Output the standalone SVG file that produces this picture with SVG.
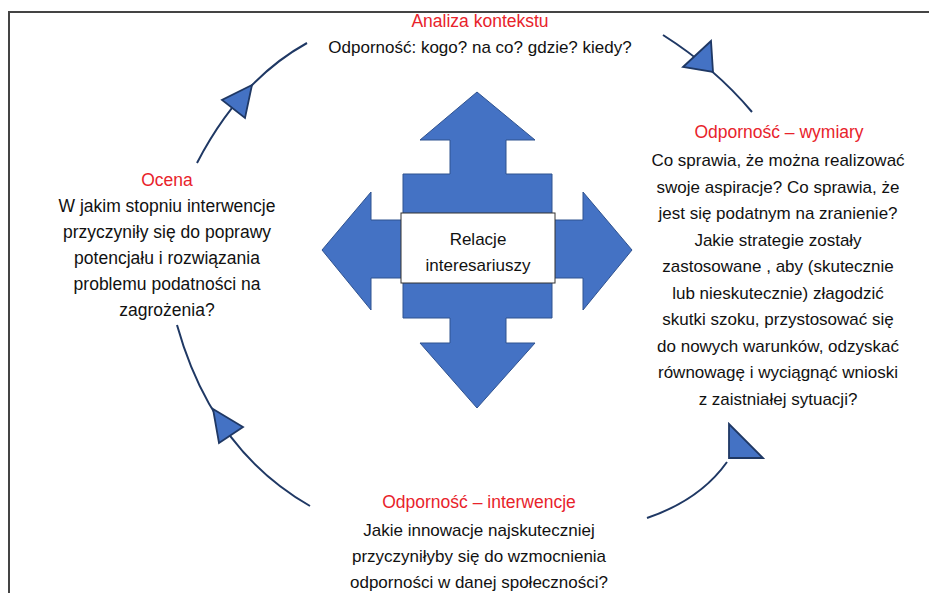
<svg xmlns="http://www.w3.org/2000/svg" width="929" height="593" viewBox="0 0 929 593">
<style>
  .t { font-family: "Liberation Sans", Arial, sans-serif; font-size: 17px; fill: #111; text-anchor: middle; }
  .r { fill: #E8232B; }
  .arc { fill: none; stroke: #1F3864; stroke-width: 2; }
  .head { fill: #4472C4; stroke: #1F3864; stroke-width: 1.8; stroke-linejoin: miter; }
  .cross { fill: #4472C4; stroke: #2F528F; stroke-width: 1; }
</style>
<rect x="0" y="0" width="929" height="593" fill="#fff"/>
<rect x="9" y="12" width="940" height="600" fill="none" stroke="#444" stroke-width="2"/>

<g id="connectors">
  <path class="arc" d="M197,163 Q240,80 307,43"/>
  <polygon class="head" points="252,85 222,100 245,118"/>
  <path class="arc" d="M663,35 Q715,68 752,112"/>
  <polygon class="head" points="711,41 683,67 713,72"/>
  <path class="arc" d="M647,518 Q700,500 727,462"/>
  <polygon class="head" points="729,424 729,458 763,458"/>
  <path class="arc" d="M177,325 Q212,450 310,506"/>
  <polygon class="head" points="213,409 243,427 219,443"/>
</g>

<g id="node-center">
  <polygon class="cross" points="477,92 535,140 506,140 506,174 552,174 552,220 583,220 583,192 632,250 583,310 583,278 552,278 552,318 506,318 506,343 535,343 477,408 420,343 450,343 450,318 403,318 403,278 371,278 371,310 322,250 371,192 371,220 403,220 403,174 450,174 450,140 420,140"/>
  <rect x="401" y="213" width="154" height="70" fill="#fff" stroke="#333" stroke-width="1"/>
  <text class="t" x="478" y="245">Relacje</text>
  <text class="t" x="478" y="271">interesariuszy</text>
</g>

<g id="node-top">
  <text class="t r" x="480" y="27" style="font-size:17.5px">Analiza kontekstu</text>
  <text class="t" x="480" y="53">Odporność: kogo? na co? gdzie? kiedy?</text>
</g>

<g id="node-right">
  <text class="t r" x="779" y="138" style="font-size:17.5px">Odporność – wymiary</text>
  <text class="t" x="778" y="166">Co sprawia, że można realizować</text>
  <text class="t" x="778" y="192.5">swoje aspiracje? Co sprawia, że</text>
  <text class="t" x="778" y="219">jest się podatnym na zranienie?</text>
  <text class="t" x="778" y="245.5">Jakie strategie zostały</text>
  <text class="t" x="778" y="272">zastosowane , aby (skutecznie</text>
  <text class="t" x="778" y="298.5">lub nieskutecznie) złagodzić</text>
  <text class="t" x="778" y="325">skutki szoku, przystosować się</text>
  <text class="t" x="778" y="351.5">do nowych warunków, odzyskać</text>
  <text class="t" x="778" y="378">równowagę i wyciągnąć wnioski</text>
  <text class="t" x="778" y="404.5">z zaistniałej sytuacji?</text>
</g>

<g id="node-left">
  <text class="t r" x="167" y="186" style="font-size:17.5px">Ocena</text>
  <text class="t" x="167" y="212" style="font-size:17.5px">W jakim stopniu interwencje</text>
  <text class="t" x="167" y="238" style="font-size:17.5px">przyczyniły się do poprawy</text>
  <text class="t" x="167" y="264" style="font-size:17.5px">potencjału i rozwiązania</text>
  <text class="t" x="167" y="290" style="font-size:17.5px">problemu podatności na</text>
  <text class="t" x="167" y="316" style="font-size:17.5px">zagrożenia?</text>
</g>

<g id="node-bottom">
  <text class="t r" x="479" y="508" style="font-size:17.5px">Odporność – interwencje</text>
  <text class="t" x="479" y="536">Jakie innowacje najskuteczniej</text>
  <text class="t" x="479" y="562">przyczyniłyby się do wzmocnienia</text>
  <text class="t" x="479" y="588">odporności w danej społeczności?</text>
</g>
</svg>
